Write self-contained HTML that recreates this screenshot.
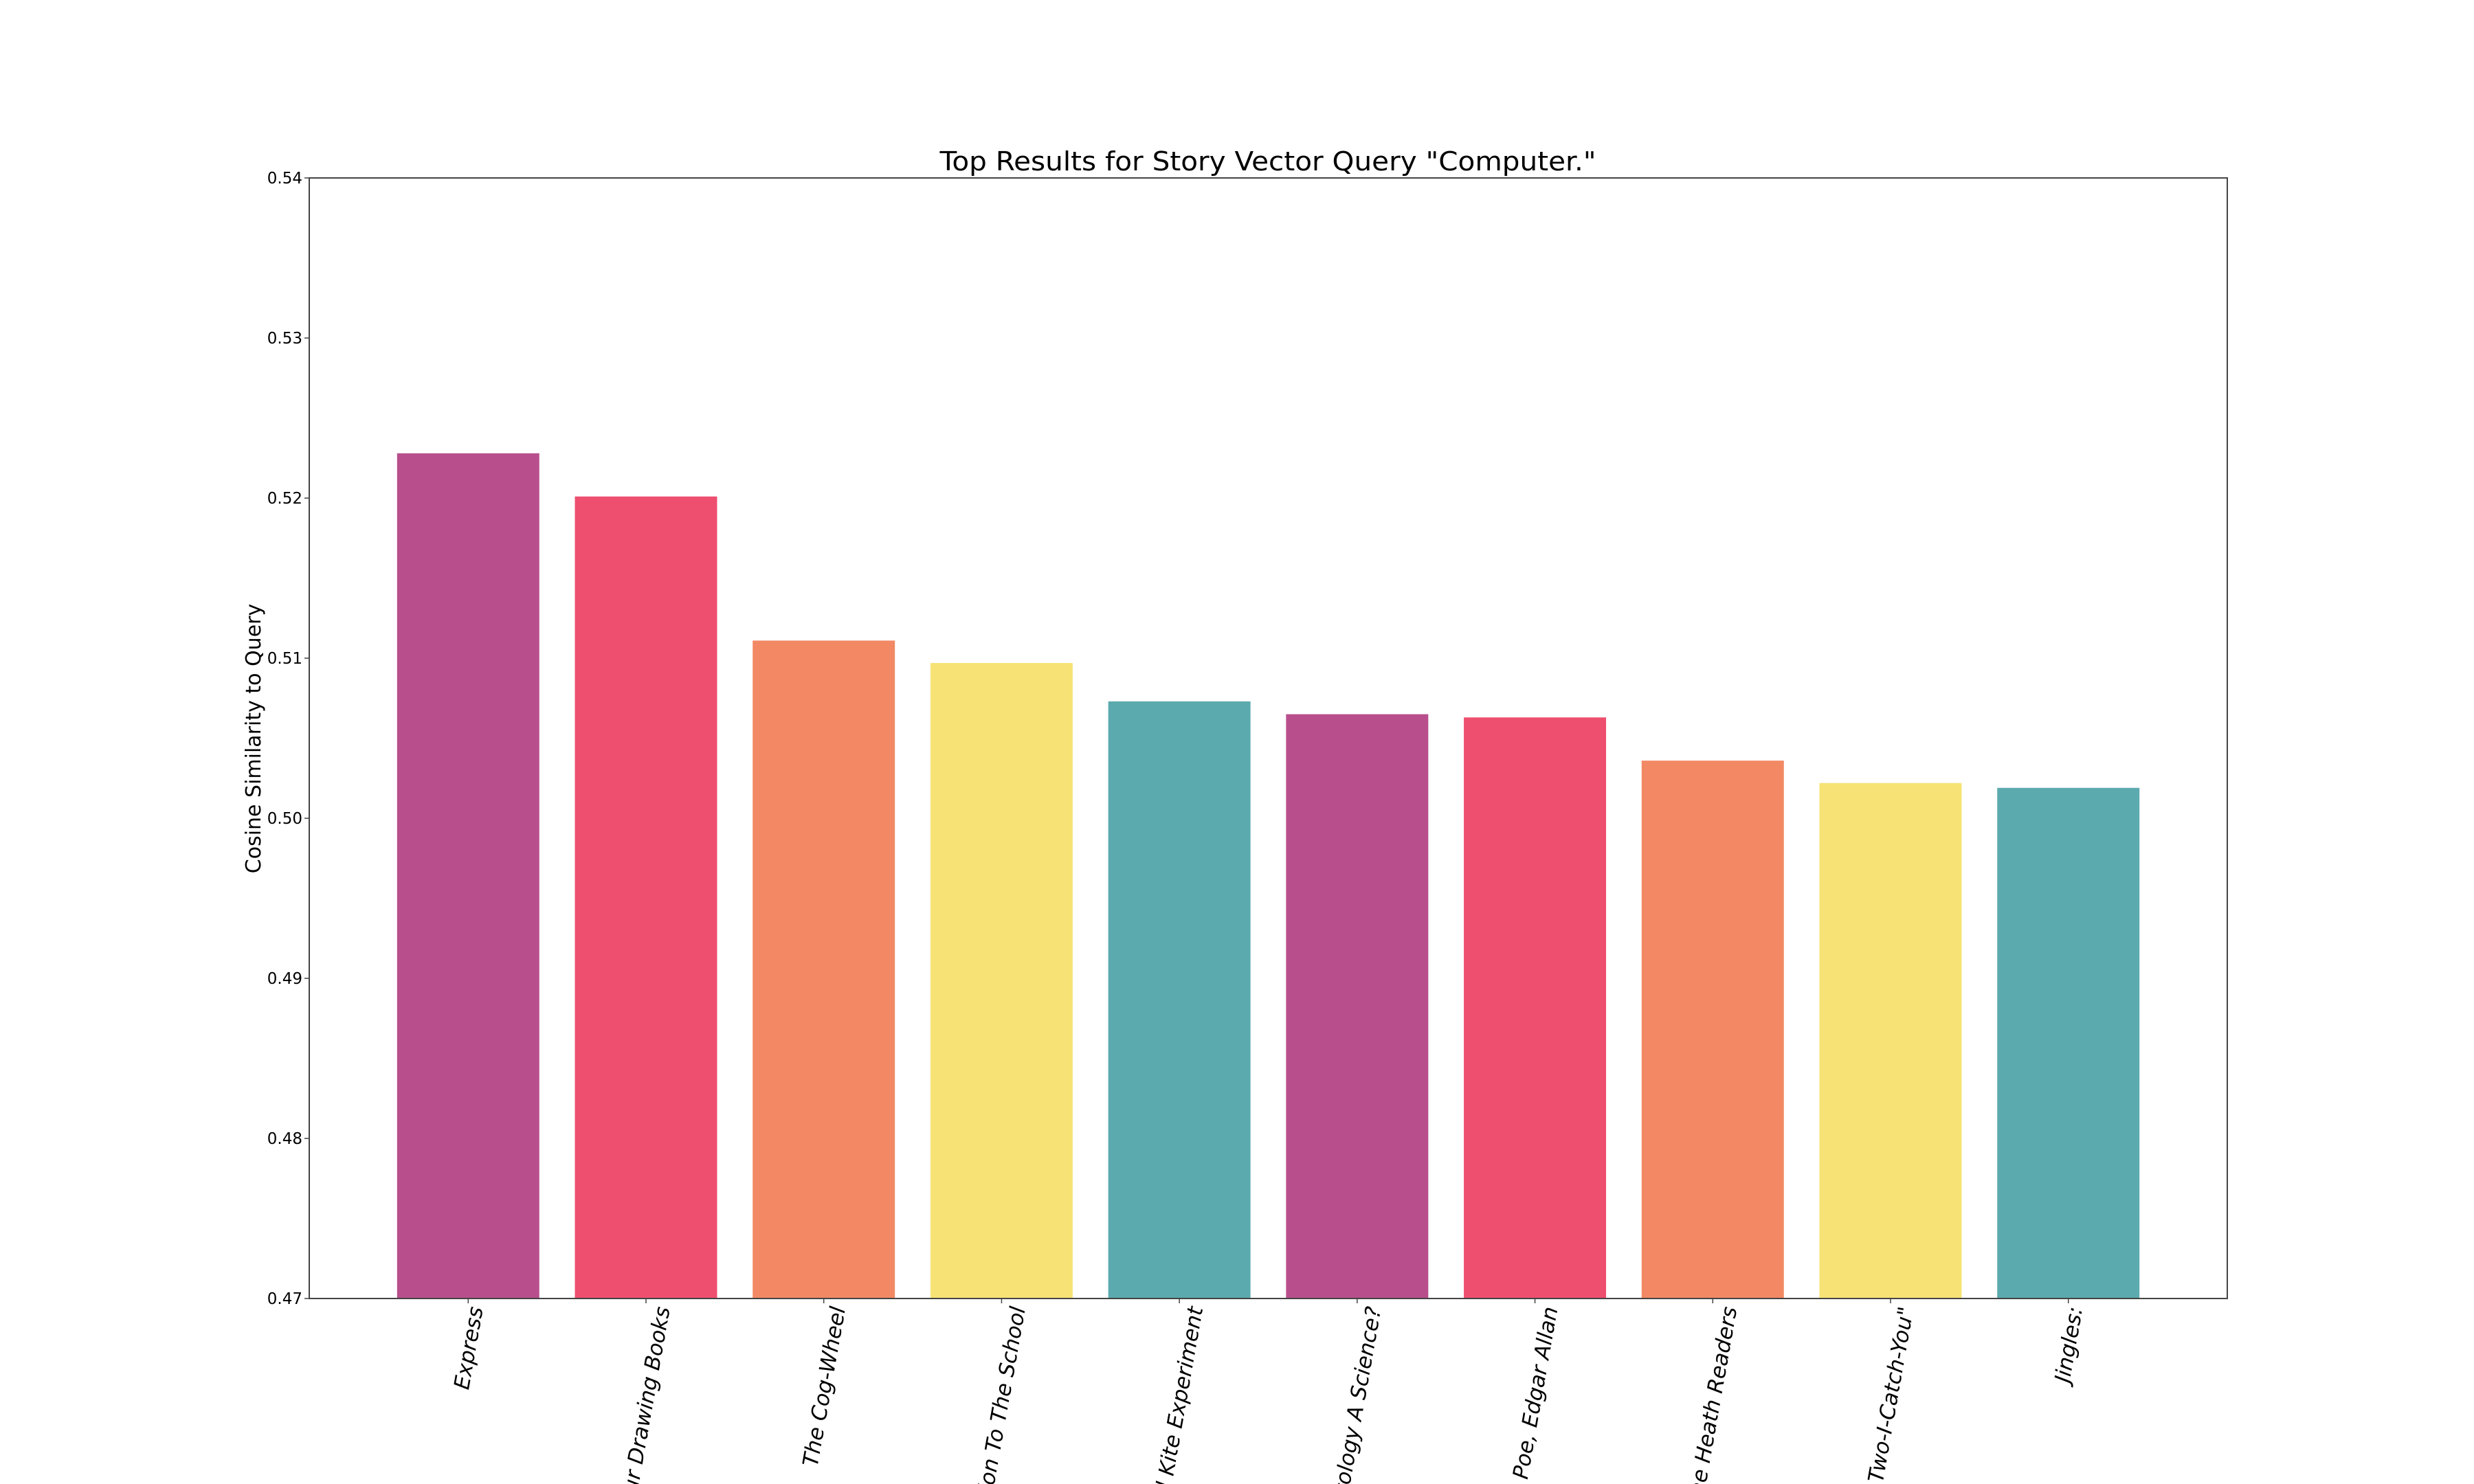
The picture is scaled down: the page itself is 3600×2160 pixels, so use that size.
<!DOCTYPE html>
<html><head><meta charset="utf-8"><style>
html,body{margin:0;padding:0;background:#fff;}
svg{display:block;font-family:"DejaVu Sans","Liberation Sans",sans-serif;}
</style></head><body>
<svg id="chart" width="3600" height="2160" viewBox="0 0 3600 2160">
<text x="1845" y="248" font-size="38" text-anchor="middle" textLength="955" lengthAdjust="spacingAndGlyphs" fill="#000">Top Results for Story Vector Query "Computer."</text>
<text transform="translate(379,1075) rotate(-90)" font-size="30" text-anchor="middle" fill="#000">Cosine Similarity to Query</text>
<g id="bars"></g><g id="yticks"></g><g id="xticks"></g>
<rect x="450" y="259" width="2791" height="1631" fill="none" stroke="#444" stroke-width="2"/>
</svg>
<script>
const categories = ["Express","Our Drawing Books","The Cog-Wheel","Introduction To The School","The Kite Experiment","Is Astrology A Science?","Poe, Edgar Allan","The Heath Readers","\"Two-I-Catch-You\"","Jingles:"];
const displayLabels = ["Express","ur Drawing Books","The Cog-Wheel","ion To The School","l Kite Experiment","tology A Science?","Poe, Edgar Allan","he Heath Readers","Two-I-Catch-You\"","Jingles:"];
const values = [0.5228,0.5201,0.5111,0.5097,0.5073,0.5065,0.5063,0.5036,0.5022,0.5019];
const yTicks = [0.47,0.48,0.49,0.50,0.51,0.52,0.53,0.54];
const yTickLabels = ["0.47","0.48","0.49","0.50","0.51","0.52","0.53","0.54"];
const colors = ["#B84F8C","#EE4F6F","#F28964","#F7E375","#5BAAAE"];
const NS="http://www.w3.org/2000/svg";
const X0=450,X1=3241,Y0=1890,Y1=259,xmin=-0.894,xmax=9.894,ymin=0.47,ymax=0.54;
function xs(v){return X0+(v-xmin)/(xmax-xmin)*(X1-X0);}
function ys(v){return Y0-(v-ymin)/(ymax-ymin)*(Y0-Y1);}
function mk(t,a,p){const e=document.createElementNS(NS,t);for(const k in a)e.setAttribute(k,a[k]);p.appendChild(e);return e;}
const gb=document.getElementById('bars'),gy=document.getElementById('yticks'),gx=document.getElementById('xticks');
values.forEach((v,i)=>{
  const l=xs(i-0.4),r=xs(i+0.4);
  const b=mk('rect',{x:l,y:ys(v),width:r-l,height:ys(ymin)-ys(v),fill:colors[i%5]},gb);
  
  
  const cx=xs(i);
  const tk=mk('line',{x1:cx,y1:Y0,x2:cx,y2:Y0+7,stroke:'#444','stroke-width':1.5},gx);
  
  
  const t=mk('text',{'font-size':31,'font-style':'italic','text-anchor':'end',fill:'#000'},gx);
  t.textContent=displayLabels[i];
  
  
  const len=t.getComputedTextLength();
  const ox=cx+len*0.1736/2+11;
  t.setAttribute('transform','translate('+ox+','+(Y0+14)+') rotate(-80)');
});
yTicks.forEach((v,i)=>{
  const y=ys(v);
  const tk=mk('line',{x1:X0-7,y1:y,x2:X0,y2:y,stroke:'#444','stroke-width':1.5},gy);
  
  
  const t=mk('text',{x:X0-10,y:y+8,'font-size':23,'text-anchor':'end',fill:'#000'},gy);
  t.textContent=yTickLabels[i];
  
  
});
</script>
</body></html>
